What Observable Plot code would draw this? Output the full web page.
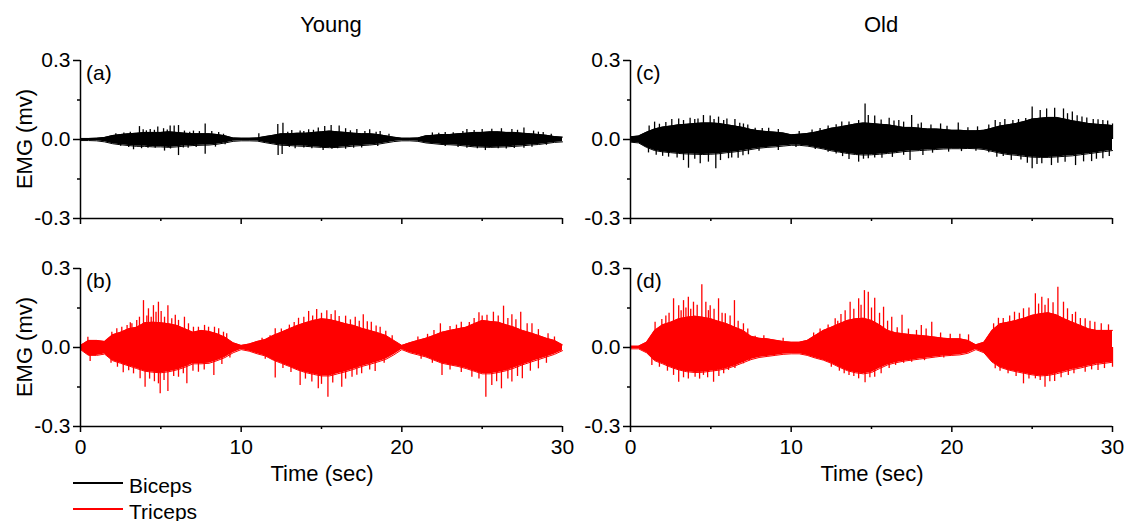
<!DOCTYPE html>
<html><head><meta charset="utf-8">
<script src="https://cdn.jsdelivr.net/npm/d3@7"></script>
<script src="https://cdn.jsdelivr.net/npm/@observablehq/plot@0.6"></script>
<style>
html,body{margin:0;padding:0;background:#fff;overflow:hidden;}
#fig{position:relative;width:1128px;height:521px;font-family:"Liberation Sans",Arial,sans-serif;color:#000;overflow:hidden;}
.lbl{position:absolute;font-size:21px;line-height:1;white-space:nowrap;}
.c{transform:translate(-50%,-50%);}
.l{transform:translate(0,-50%);}
.rot{transform:translate(-50%,-50%) rotate(-90deg);}
.panel{position:absolute;}
.sw{position:absolute;height:1.5px;width:50px;}
</style></head><body><div id="fig"></div>
<script>
// ---------- data ----------
const groups = ["Young", "Old"];
const muscles = ["Biceps", "Triceps"];
const panelTags = ["(a)", "(b)", "(c)", "(d)"];
const yTicks = [-0.3, 0, 0.3];
const yMinor = [-0.15, 0.15];
const xTicks = [0, 10, 20, 30];
const xMinor = [5, 15, 25];
const colors = {Biceps: "#000000", Triceps: "#ff0000"};

// sample times (s)
const T = [0,0.5,1,1.5,2,2.5,3,3.5,4,4.5,5,5.5,6,6.5,7,7.5,8,8.5,9,9.5,10,10.5,11,11.5,12,12.5,13,13.5,14,14.5,15,15.5,16,16.5,17,17.5,18,18.5,19,19.5,20,20.5,21,21.5,22,22.5,23,23.5,24,24.5,25,25.5,26,26.5,27,27.5,28,28.5,29,29.5,30];

// (a) Young biceps – dense envelope (mV) and individual peaks [t, mV]
const aHi = [0.004,0.004,0.005,0.008,0.015,0.019,0.022,0.024,0.027,0.027,0.027,0.029,0.027,0.024,0.022,0.022,0.022,0.019,0.014,0.006,0.005,0.005,0.006,0.011,0.016,0.022,0.022,0.024,0.024,0.027,0.029,0.032,0.029,0.027,0.024,0.022,0.022,0.019,0.014,0.009,0.005,0.005,0.006,0.014,0.016,0.019,0.019,0.022,0.024,0.027,0.027,0.029,0.029,0.027,0.027,0.024,0.022,0.019,0.016,0.011,0.009];
const aLo = [-0.004,-0.004,-0.005,-0.009,-0.016,-0.02,-0.023,-0.026,-0.026,-0.028,-0.028,-0.03,-0.028,-0.025,-0.023,-0.022,-0.021,-0.018,-0.013,-0.007,-0.005,-0.005,-0.006,-0.012,-0.017,-0.022,-0.023,-0.025,-0.026,-0.028,-0.03,-0.031,-0.03,-0.028,-0.025,-0.023,-0.021,-0.018,-0.013,-0.008,-0.005,-0.005,-0.007,-0.013,-0.016,-0.019,-0.02,-0.022,-0.025,-0.028,-0.029,-0.03,-0.029,-0.028,-0.026,-0.024,-0.021,-0.019,-0.015,-0.011,-0.009];
const aSpikes = [[2.2,0.022],[2.7,0.025],[3.1,0.028],[3.67,0.049],[3.9,0.037],[4.1,0.033],[4.34,0.038],[4.6,0.035],[4.81,0.047],[5.17,0.041],[5.4,0.036],[5.58,0.051],[5.83,0.051],[6.1,0.053],[6.47,0.032],[6.8,0.028],[7.03,0.032],[7.4,0.03],[7.76,0.059],[8.17,0.03],[8.6,0.027],[8.9,0.02],[11.1,0.022],[12.28,0.057],[12.6,0.062],[12.9,0.028],[13.15,0.034],[13.67,0.032],[13.9,0.03],[14.2,0.037],[14.5,0.035],[14.8,0.044],[15.2,0.049],[15.6,0.053],[16.1,0.051],[16.5,0.041],[16.8,0.033],[17.2,0.038],[17.7,0.03],[18.0,0.037],[18.4,0.028],[18.65,0.03],[19.2,0.02],[21.9,0.025],[22.3,0.024],[22.7,0.027],[23.2,0.026],[23.8,0.03],[24.05,0.038],[24.5,0.034],[25.0,0.038],[25.6,0.039],[26.2,0.041],[26.85,0.038],[27.2,0.035],[27.6,0.044],[28.2,0.032],[28.5,0.028],[28.8,0.027],[29.3,0.02],
  [2.5,-0.026],[3.0,-0.03],[3.3,-0.039],[3.8,-0.035],[4.2,-0.033],[4.65,-0.033],[5.23,-0.044],[5.6,-0.036],[6.1,-0.061],[6.4,-0.032],[6.7,-0.033],[7.2,-0.03],[7.76,-0.056],[8.4,-0.029],[9.0,-0.02],[12.3,-0.061],[12.55,-0.057],[13.0,-0.03],[13.36,-0.035],[13.9,-0.032],[14.4,-0.035],[15.1,-0.042],[15.65,-0.037],[16.0,-0.035],[16.5,-0.037],[17.0,-0.033],[17.5,-0.032],[18.5,-0.027],[22.7,-0.027],[23.5,-0.03],[24.05,-0.033],[24.7,-0.035],[25.2,-0.042],[26.0,-0.035],[26.5,-0.036],[27.0,-0.034],[27.6,-0.033],[28.1,-0.029],[29.0,-0.022]];

// (b) Young triceps
const bHi = [0.008,0.027,0.027,0.023,0.048,0.058,0.071,0.077,0.094,0.096,0.094,0.09,0.084,0.071,0.058,0.065,0.061,0.052,0.039,0.018,0.008,0.013,0.023,0.03,0.046,0.058,0.071,0.084,0.094,0.103,0.109,0.106,0.099,0.09,0.084,0.073,0.065,0.056,0.046,0.027,0.008,0.018,0.027,0.035,0.046,0.058,0.065,0.071,0.077,0.09,0.103,0.099,0.096,0.086,0.077,0.065,0.056,0.046,0.035,0.027,0.01];
const bLo = [-0.008,-0.03,-0.03,-0.025,-0.05,-0.06,-0.07,-0.08,-0.09,-0.094,-0.096,-0.092,-0.085,-0.075,-0.062,-0.062,-0.06,-0.05,-0.038,-0.02,-0.008,-0.014,-0.024,-0.032,-0.048,-0.06,-0.072,-0.085,-0.095,-0.102,-0.108,-0.108,-0.1,-0.092,-0.083,-0.072,-0.064,-0.055,-0.045,-0.028,-0.008,-0.02,-0.028,-0.036,-0.048,-0.06,-0.066,-0.072,-0.08,-0.09,-0.1,-0.1,-0.095,-0.088,-0.078,-0.066,-0.056,-0.046,-0.036,-0.026,-0.012];
const bSpikes = [[0.46,0.039],[1.95,0.058],[2.26,0.071],[2.57,0.077],[2.9,0.084],[3.1,0.094],[3.2,0.09],[3.5,0.103],[3.67,0.115],[3.92,0.178],[4.13,0.12],[4.23,0.147],[4.4,0.115],[4.54,0.159],[4.7,0.134],[4.85,0.172],[5.02,0.137],[5.23,0.115],[5.44,0.159],[5.68,0.109],[5.9,0.122],[6.1,0.103],[6.47,0.115],[6.72,0.09],[7.03,0.077],[7.34,0.077],[7.72,0.084],[7.97,0.077],[8.34,0.077],[8.6,0.071],[8.9,0.058],[9.1,0.052],[11.3,0.035],[11.8,0.045],[12.12,0.071],[12.5,0.07],[13.0,0.085],[13.3,0.095],[13.57,0.111],[13.9,0.115],[14.2,0.137],[14.45,0.12],[14.7,0.144],[15.0,0.13],[15.33,0.14],[15.6,0.125],[15.85,0.14],[16.1,0.118],[16.5,0.119],[16.8,0.105],[17.1,0.115],[17.35,0.1],[17.6,0.124],[17.85,0.098],[18.1,0.096],[18.4,0.082],[18.65,0.077],[19.0,0.062],[19.4,0.045],[21.0,0.04],[21.6,0.05],[22.0,0.065],[22.4,0.09],[23.0,0.08],[23.4,0.085],[23.7,0.096],[24.2,0.095],[24.5,0.11],[24.8,0.132],[25.0,0.12],[25.3,0.122],[25.7,0.134],[26.0,0.12],[26.33,0.157],[26.6,0.11],[26.85,0.124],[27.1,0.105],[27.4,0.134],[27.8,0.09],[28.1,0.09],[28.5,0.068],[29.1,0.052],[29.5,0.04],
  [0.6,-0.053],[1.9,-0.06],[2.3,-0.075],[2.66,-0.096],[3.0,-0.088],[3.3,-0.1],[3.71,-0.119],[4.02,-0.151],[4.3,-0.12],[4.6,-0.13],[4.85,-0.138],[4.96,-0.176],[5.2,-0.125],[5.44,-0.167],[5.8,-0.11],[6.1,-0.113],[6.4,-0.1],[6.62,-0.138],[7.0,-0.09],[7.34,-0.094],[7.7,-0.085],[8.3,-0.106],[8.8,-0.065],[9.3,-0.04],[11.5,-0.045],[12.12,-0.116],[12.6,-0.08],[13.1,-0.095],[13.67,-0.144],[14.0,-0.12],[14.4,-0.131],[14.8,-0.157],[15.0,-0.14],[15.4,-0.189],[15.7,-0.135],[16.26,-0.151],[16.5,-0.12],[16.9,-0.113],[17.2,-0.105],[17.5,-0.1],[18.0,-0.085],[18.34,-0.091],[18.9,-0.06],[21.2,-0.045],[21.9,-0.06],[22.5,-0.106],[23.0,-0.085],[23.7,-0.095],[24.36,-0.113],[24.8,-0.12],[25.23,-0.189],[25.6,-0.144],[25.9,-0.13],[26.2,-0.157],[26.6,-0.12],[26.85,-0.131],[27.2,-0.11],[27.5,-0.119],[28.0,-0.09],[28.5,-0.081],[29.0,-0.06]];

// (c) Old biceps
const cHi = [0.01,0.013,0.028,0.04,0.047,0.051,0.056,0.058,0.061,0.063,0.063,0.061,0.056,0.051,0.046,0.038,0.033,0.03,0.028,0.025,0.018,0.02,0.023,0.028,0.035,0.043,0.047,0.053,0.059,0.063,0.061,0.058,0.056,0.051,0.046,0.046,0.043,0.04,0.04,0.038,0.035,0.035,0.033,0.033,0.035,0.043,0.051,0.056,0.061,0.068,0.078,0.081,0.084,0.084,0.078,0.071,0.066,0.061,0.058,0.056,0.053];
const cLo = [-0.01,-0.013,-0.03,-0.042,-0.047,-0.05,-0.053,-0.055,-0.056,-0.057,-0.056,-0.054,-0.05,-0.047,-0.043,-0.038,-0.033,-0.03,-0.028,-0.025,-0.022,-0.022,-0.025,-0.03,-0.036,-0.043,-0.048,-0.053,-0.057,-0.059,-0.058,-0.056,-0.053,-0.05,-0.046,-0.044,-0.042,-0.04,-0.038,-0.036,-0.035,-0.035,-0.034,-0.035,-0.038,-0.045,-0.052,-0.057,-0.06,-0.064,-0.067,-0.068,-0.068,-0.066,-0.064,-0.062,-0.058,-0.054,-0.05,-0.046,-0.042];
const cSpikes = [[1.16,0.051],[1.5,0.066],[1.8,0.058],[2.2,0.065],[2.57,0.076],[3.0,0.078],[3.3,0.072],[3.71,0.081],[4.0,0.076],[4.2,0.078],[4.54,0.091],[4.96,0.089],[5.2,0.076],[5.48,0.085],[5.8,0.072],[6.0,0.078],[6.5,0.076],[6.8,0.062],[7.03,0.059],[7.3,0.055],[7.76,0.043],[8.2,0.042],[8.6,0.043],[9.2,0.038],[10.5,0.03],[11.3,0.036],[11.8,0.042],[12.3,0.051],[12.8,0.056],[13.15,0.066],[13.6,0.066],[14.2,0.072],[14.6,0.135],[14.8,0.091],[15.2,0.089],[15.6,0.074],[16.1,0.081],[16.4,0.07],[16.7,0.072],[17.0,0.066],[17.5,0.091],[17.9,0.058],[18.1,0.063],[18.7,0.055],[19.3,0.059],[19.7,0.05],[20.4,0.063],[21.0,0.045],[21.6,0.048],[22.3,0.055],[22.7,0.072],[23.0,0.065],[23.3,0.076],[23.8,0.072],[24.15,0.076],[24.6,0.08],[25.0,0.123],[25.5,0.11],[25.9,0.116],[26.4,0.119],[26.95,0.116],[27.2,0.098],[27.5,0.104],[27.8,0.09],[28.1,0.085],[28.4,0.082],[28.8,0.076],[29.1,0.075],[29.4,0.072],[29.7,0.07],[30.0,0.059],
  [1.12,-0.051],[1.6,-0.06],[2.0,-0.064],[2.37,-0.067],[2.9,-0.07],[3.3,-0.08],[3.61,-0.109],[4.0,-0.075],[4.34,-0.092],[4.85,-0.086],[5.31,-0.111],[5.6,-0.08],[6.1,-0.073],[6.3,-0.07],[6.7,-0.071],[7.0,-0.062],[7.34,-0.058],[8.0,-0.045],[9.2,-0.042],[10.3,-0.03],[11.5,-0.038],[12.3,-0.048],[12.8,-0.055],[13.2,-0.065],[13.6,-0.076],[14.2,-0.086],[14.5,-0.075],[14.8,-0.073],[15.2,-0.07],[15.65,-0.071],[16.3,-0.068],[17.0,-0.06],[17.4,-0.08],[18.2,-0.061],[18.8,-0.052],[19.8,-0.048],[20.6,-0.046],[21.5,-0.045],[22.3,-0.05],[22.8,-0.067],[23.2,-0.065],[23.7,-0.08],[24.3,-0.078],[24.7,-0.09],[25.0,-0.111],[25.3,-0.095],[25.6,-0.092],[26.2,-0.099],[26.6,-0.09],[27.05,-0.086],[27.7,-0.099],[28.2,-0.085],[28.7,-0.084],[29.0,-0.075],[29.4,-0.073],[29.8,-0.065]];

// (d) Old triceps
const dHi = [0.005,0.005,0.02,0.065,0.086,0.096,0.109,0.115,0.119,0.115,0.109,0.099,0.09,0.077,0.065,0.043,0.035,0.033,0.028,0.023,0.02,0.02,0.027,0.046,0.065,0.077,0.09,0.103,0.109,0.111,0.103,0.086,0.065,0.056,0.052,0.048,0.046,0.043,0.039,0.035,0.033,0.033,0.027,0.01,0.02,0.065,0.09,0.096,0.103,0.111,0.122,0.128,0.132,0.124,0.109,0.096,0.084,0.071,0.065,0.065,0.065];
const dLo = [-0.005,-0.005,-0.02,-0.05,-0.062,-0.075,-0.085,-0.092,-0.095,-0.094,-0.09,-0.086,-0.08,-0.07,-0.058,-0.046,-0.038,-0.034,-0.03,-0.026,-0.024,-0.024,-0.03,-0.04,-0.048,-0.06,-0.075,-0.088,-0.096,-0.1,-0.095,-0.08,-0.066,-0.058,-0.052,-0.048,-0.044,-0.04,-0.036,-0.032,-0.03,-0.028,-0.022,-0.008,-0.02,-0.055,-0.075,-0.085,-0.092,-0.098,-0.104,-0.108,-0.106,-0.1,-0.092,-0.084,-0.078,-0.07,-0.064,-0.06,-0.056];
const dSpikes = [[1.53,0.096],[1.95,0.106],[2.2,0.12],[2.4,0.13],[2.68,0.185],[3.0,0.159],[3.15,0.14],[3.3,0.178],[3.45,0.15],[3.6,0.191],[3.75,0.145],[3.92,0.172],[4.15,0.16],[4.44,0.238],[4.69,0.172],[4.85,0.14],[4.96,0.159],[5.2,0.145],[5.48,0.185],[5.7,0.13],[5.9,0.128],[6.2,0.12],[6.47,0.178],[6.7,0.1],[7.03,0.09],[7.3,0.07],[7.76,0.043],[8.3,0.045],[9.5,0.035],[11.4,0.055],[11.8,0.07],[12.3,0.085],[12.74,0.109],[12.9,0.1],[13.1,0.125],[13.36,0.14],[13.67,0.172],[13.9,0.145],[14.2,0.185],[14.35,0.16],[14.56,0.216],[14.8,0.21],[15.0,0.15],[15.2,0.187],[15.5,0.13],[15.75,0.153],[16.0,0.1],[16.26,0.115],[16.6,0.075],[16.9,0.122],[17.3,0.07],[17.8,0.065],[18.1,0.084],[18.4,0.07],[18.75,0.096],[19.3,0.055],[19.9,0.05],[20.5,0.05],[21.04,0.048],[22.6,0.09],[22.9,0.111],[23.2,0.11],[23.6,0.12],[23.9,0.134],[24.2,0.13],[24.46,0.147],[24.8,0.15],[25.2,0.204],[25.4,0.165],[25.6,0.191],[25.8,0.16],[26.0,0.185],[26.3,0.17],[26.6,0.229],[26.95,0.172],[27.2,0.147],[27.5,0.125],[27.7,0.134],[28.0,0.11],[28.3,0.109],[28.6,0.1],[28.9,0.096],[29.3,0.09],[29.75,0.086],
  [1.33,-0.068],[1.8,-0.075],[2.3,-0.09],[2.68,-0.106],[3.0,-0.132],[3.3,-0.115],[3.6,-0.12],[4.02,-0.113],[4.3,-0.12],[4.54,-0.106],[4.8,-0.115],[5.17,-0.132],[5.5,-0.11],[5.8,-0.1],[6.1,-0.087],[6.5,-0.08],[7.03,-0.062],[7.4,-0.05],[7.76,-0.037],[11.9,-0.043],[12.5,-0.075],[13.0,-0.09],[13.3,-0.1],[13.6,-0.106],[13.9,-0.11],[14.2,-0.119],[14.6,-0.134],[14.9,-0.115],[15.2,-0.113],[15.6,-0.1],[16.1,-0.08],[16.5,-0.068],[17.0,-0.06],[17.5,-0.056],[18.3,-0.05],[19.5,-0.04],[22.7,-0.081],[23.0,-0.09],[23.5,-0.1],[24.0,-0.11],[24.46,-0.138],[24.8,-0.12],[25.2,-0.119],[25.5,-0.125],[25.8,-0.151],[26.1,-0.13],[26.4,-0.129],[26.8,-0.115],[27.25,-0.106],[27.6,-0.1],[28.3,-0.094],[28.7,-0.085],[29.1,-0.087],[29.5,-0.08],[30.0,-0.075]];

// ---------- drawing ----------
const FONT = '"Liberation Sans", Arial, sans-serif';
const fig = document.getElementById("fig");
const fmtY = d => d === 0 ? "0.0" : (d < 0 ? "-" : "") + Math.abs(d).toFixed(1);

function panel(hi, lo, spikes, color, left, top, height, mb, xLabels) {
  const band = T.map((t, i) => ({t, hi: hi[i], lo: lo[i]}));
  const sp = spikes.map(([t, v]) => ({t, v}));
  const svg = Plot.plot({
    width: 580, height, marginLeft: 80, marginRight: 18, marginTop: 10, marginBottom: mb,
    x: {domain: [0, 30]}, y: {domain: [-0.3, 0.3]},
    style: {fontFamily: FONT, fontSize: "21px", color: "#000", background: "transparent", overflow: "visible"},
    marks: [
      Plot.areaY(band, {x: "t", y1: "lo", y2: "hi", fill: color}),
      Plot.lineY(band, {x: "t", y: "hi", stroke: color, strokeWidth: 1}),
      Plot.lineY(band, {x: "t", y: "lo", stroke: color, strokeWidth: 1}),
      Plot.ruleX(sp, {x: "t", y1: 0, y2: "v", stroke: color, strokeWidth: 1.3}),
      Plot.axisY({ticks: yTicks, tickSize: 7, tickPadding: 3, tickFormat: fmtY, strokeWidth: 1.5, label: null, fontSize: 21}),
      Plot.axisY({ticks: yMinor, tickSize: 3, tickFormat: () => "", strokeWidth: 1.5, label: null}),
      Plot.axisX({ticks: xTicks, tickSize: 6, tickPadding: 7, tickFormat: xLabels ? d => String(d) : () => "", strokeWidth: 1.5, label: null, fontSize: 21}),
      Plot.axisX({ticks: xMinor, tickSize: 3, tickFormat: () => "", strokeWidth: 1.5, label: null}),
      Plot.ruleX([0], {y1: -0.3, y2: 0.3, strokeWidth: 1.5}),
      Plot.ruleY([-0.3], {x1: 0, x2: 30, strokeWidth: 1.5})
    ]
  });
  svg.classList.add("panel");
  svg.style.left = left + "px";
  svg.style.top = top + "px";
  fig.appendChild(svg);
}

panel(aHi, aLo, aSpikes, colors.Biceps, 0, 50, 198, 30, false);
panel(bHi, bLo, bSpikes, colors.Triceps, 0, 258, 240, 72, true);
panel(cHi, cLo, cSpikes, colors.Biceps, 550, 50, 198, 30, false);
panel(dHi, dLo, dSpikes, colors.Triceps, 550, 258, 240, 72, true);

function label(text, x, y, cls, size) {
  const d = document.createElement("div");
  d.className = "lbl " + cls;
  d.style.left = x + "px";
  d.style.top = y + "px";
  if (size) d.style.fontSize = size + "px";
  d.textContent = text;
  fig.appendChild(d);
}
label(groups[0], 331, 25, "c", 22);
label(groups[1], 881, 25, "c", 22);
label(panelTags[0], 86, 72, "l");
label(panelTags[1], 86, 280, "l");
label(panelTags[2], 636, 72, "l");
label(panelTags[3], 636, 280, "l");
label("EMG (mv)", 25, 139, "rot", 22);
label("EMG (mv)", 25, 347, "rot", 22);
label("Time (sec)", 322, 474, "c", 22);
label("Time (sec)", 872, 474, "c", 22);

// legend
muscles.forEach((m, i) => {
  const sw = document.createElement("div");
  sw.className = "sw";
  sw.style.left = "73px";
  sw.style.top = (482 + 26 * i) + "px";
  sw.style.background = colors[m];
  fig.appendChild(sw);
  label(m, 129, 485 + 26 * i, "l", 21);
});
</script></body></html>
